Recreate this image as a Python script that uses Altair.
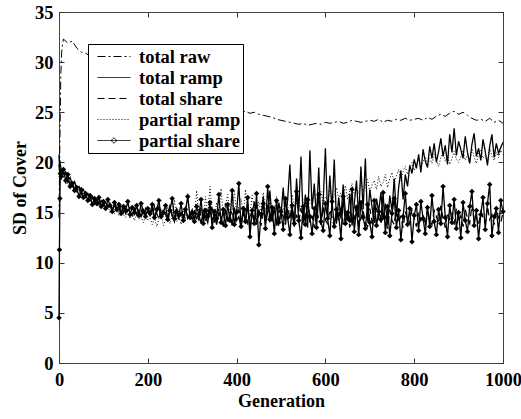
import altair as alt
import pandas as pd

series_names = ["total raw", "total ramp", "total share", "partial ramp", "partial share"]
x_ticks = [0, 200, 400, 600, 800, 1000]
y_ticks = [0, 5, 10, 15, 20, 25, 30, 35]

gens_raw = [0, 2, 4, 6, 8] + list(range(10, 1001, 10))
gens_noisy = [0, 1, 2, 3] + list(range(5, 1001, 5))

total_raw = [
    14.5, 22.0, 28.5, 31.0, 31.8,
    32.3, 31.9, 32.1, 31.4, 31.0, 30.9, 30.6, 30.3, 30.0, 29.8,
    29.5, 29.2, 29.0, 28.7, 28.5, 28.2, 28.0, 27.8, 27.6, 27.4,
    27.2, 27.0, 26.8, 26.7, 26.5, 26.3, 26.2, 26.0, 25.9, 25.8,
    25.7, 25.6, 25.5, 25.5, 25.4, 25.3, 25.3, 25.2, 25.1, 25.1,
    25.0, 25.1, 24.9, 25.0, 24.8, 24.7, 24.6, 24.5, 24.3, 24.2,
    24.1, 24.0, 23.9, 23.8, 23.9, 23.7, 23.8, 23.9, 23.8, 24.0,
    23.9, 24.0, 24.1, 23.9, 24.0, 24.2, 24.1, 24.0, 24.1, 24.2,
    24.1, 24.3, 24.0, 24.2, 24.1, 24.3, 24.2, 24.4, 24.2, 24.3,
    24.4, 24.2, 24.5, 24.3, 24.6, 24.8, 24.6, 24.9, 25.1, 24.8,
    25.0, 24.7, 24.4, 24.2, 24.3, 24.1, 24.4, 24.0, 24.2, 23.9,
]

total_ramp = [
    20.8, 19.6, 20.2, 19.8,
    19.3, 18.8, 19.0, 18.2, 18.5, 17.8, 18.1, 17.4, 17.6, 17.0, 17.3, 16.7, 16.9, 16.3, 16.6, 16.1, 16.3, 15.9, 16.2, 15.8,
    16.0, 15.6, 15.9, 15.3, 15.7, 15.2, 15.5, 15.0, 15.6, 14.9, 15.3, 15.1, 14.7, 15.4, 14.8, 15.2, 14.6, 15.3, 14.9, 15.1,
    14.7, 15.4, 14.5, 15.0, 15.6, 14.4, 15.2, 14.8, 14.3, 15.5, 14.7, 14.1, 15.3, 14.6, 15.0, 14.2, 15.4, 14.5, 14.9, 14.3,
    15.1, 14.4, 14.8, 13.9, 15.2, 14.6, 14.0, 15.4, 14.3, 14.7, 13.8, 15.0, 14.5, 13.6, 15.3, 14.1, 14.8, 13.7, 15.5, 14.2,
    14.6, 13.5, 15.2, 14.0, 15.8, 13.4, 14.9, 16.1, 13.8, 15.3, 14.4, 16.6, 13.9, 15.0, 17.2, 14.1, 15.6, 13.7, 16.0, 14.8,
    17.5, 14.2, 16.3, 19.8, 14.9, 13.6, 18.4, 15.1, 20.6, 14.0, 16.8, 13.5, 21.2, 15.4, 17.9, 14.3, 19.5, 13.8, 16.2, 21.4,
    14.6, 18.7, 15.2, 20.3, 13.9, 16.5, 14.4, 17.8, 15.0, 14.2, 16.9, 13.7, 15.8, 18.2, 14.5, 19.6, 15.3, 20.4, 14.1, 17.3,
    15.6, 14.0, 16.4, 15.1, 17.0, 14.3, 15.9, 13.8, 16.7, 15.2, 18.4, 14.6, 17.5, 19.2, 16.3, 18.8, 17.6, 19.7, 18.9, 20.3,
    19.4, 20.8, 19.0, 21.3, 20.1, 19.5, 21.6, 20.4, 21.9, 20.0, 21.1, 22.4, 20.6, 21.7, 19.8, 22.8, 21.0, 23.4, 20.7, 22.1,
    21.3, 20.4, 22.6, 21.0, 19.9, 21.8, 22.9, 20.6, 21.4, 20.2, 22.3, 21.1, 19.7, 21.6, 22.8, 20.5, 21.9, 20.9, 21.5, 22.0,
]

total_share = [
    19.8, 19.2, 18.7, 19.5,
    18.9, 18.4, 19.1, 18.0, 18.3, 17.6, 17.9, 17.1, 17.4, 16.8, 17.0, 16.5, 16.9, 16.2, 16.6, 15.9, 16.4, 15.8, 16.1, 15.7,
    16.2, 15.5, 15.9, 15.3, 16.0, 15.4, 15.1, 15.8, 15.0, 15.6, 14.9, 15.5, 15.2, 14.8, 15.7, 14.9, 15.3, 14.6, 15.4, 15.0,
    15.2, 14.7, 15.6, 14.9, 14.4, 15.5, 14.8, 15.1, 14.5, 15.8, 14.6, 14.9, 15.4, 14.3, 15.0, 14.7, 15.6, 14.4, 14.8, 15.3,
    14.5, 15.0, 14.2, 15.5, 14.7, 14.1, 15.3, 14.6, 15.7, 14.0, 14.9, 15.4, 14.3, 14.8, 15.9, 14.2, 14.6, 15.2, 13.9, 14.7,
    15.3, 14.1, 14.8, 15.6, 13.8, 14.6, 15.1, 14.0, 15.8, 14.4, 13.7, 15.2, 14.5, 16.0, 13.9, 14.7, 15.3, 14.2, 13.6, 15.0,
    14.6, 13.8, 15.5, 14.3, 15.9, 13.7, 14.8, 14.1, 15.4, 13.9, 14.5, 16.1, 14.0, 14.7, 13.5, 15.2, 14.4, 13.8, 15.6, 14.2,
    13.9, 15.3, 14.5, 13.6, 15.0, 14.2, 15.7, 13.8, 14.6, 15.1, 13.5, 14.9, 14.3, 15.8, 13.7, 14.4, 15.2, 14.0, 13.6, 15.4,
    14.1, 13.7, 15.5, 14.4, 13.9, 15.0, 14.6, 13.4, 15.3, 14.2, 13.8, 15.6, 14.0, 14.7, 13.5, 15.1, 14.3, 13.9, 15.4, 14.5,
    13.6, 15.0, 14.2, 14.8, 13.7, 15.5, 14.1, 13.8, 15.2, 14.6, 13.9, 15.7, 14.4, 13.5, 15.0, 14.3, 14.9, 13.8, 15.4, 14.1,
    14.7, 13.6, 15.3, 14.4, 13.9, 15.8, 14.2, 14.6, 13.7, 15.1, 14.5, 13.9, 15.6, 14.3, 14.8, 13.8, 15.2, 14.5, 14.0, 15.0,
]

partial_ramp = [
    18.9, 18.5, 19.3, 18.7,
    18.2, 18.7, 17.8, 18.1, 17.4, 17.7, 17.0, 17.3, 16.7, 16.9, 16.4, 16.7, 16.1, 16.4, 15.8, 16.2, 15.6, 15.9, 15.4, 15.7,
    15.3, 15.8, 15.0, 15.5, 14.9, 15.4, 14.7, 15.2, 14.8, 14.5, 15.1, 14.4, 14.9, 14.2, 14.8, 14.3, 14.6, 14.0, 14.7, 14.2,
    14.5, 13.8, 14.6, 13.6, 14.4, 14.9, 13.7, 14.3, 15.6, 13.9, 14.5, 16.3, 14.1, 14.8, 13.8, 15.4, 14.2, 16.9, 14.6, 15.0,
    14.3, 17.2, 14.8, 15.5, 14.0, 16.6, 14.7, 17.6, 15.1, 14.4, 16.0, 14.9, 17.4, 14.5, 15.8, 16.8, 14.6, 15.3, 17.1, 14.8,
    15.6, 16.4, 14.7, 17.3, 15.2, 14.9, 16.7, 15.4, 14.6, 16.1, 15.0, 17.0, 15.3, 14.8, 16.2, 15.5, 15.1, 16.6, 14.9, 15.7,
    15.2, 16.3, 15.6, 14.9, 16.8, 15.4, 15.9, 16.5, 15.1, 16.0, 16.7, 15.5, 16.2, 15.8, 16.9, 15.6, 16.4, 17.1, 15.9, 16.6,
    16.2, 17.3, 16.0, 16.8, 17.5, 16.4, 17.0, 16.6, 17.7, 16.3, 17.2, 17.9, 16.7, 17.4, 16.9, 18.1, 17.1, 17.6, 18.3, 17.0,
    17.8, 18.2, 17.3, 18.6, 17.6, 18.0, 18.8, 17.5, 18.4, 19.0, 17.9, 18.7, 19.3, 18.2, 19.1, 19.6, 18.8, 19.4, 20.0, 19.2,
    19.8, 20.3, 19.5, 20.1, 20.6, 19.7, 20.4, 19.9, 20.8, 20.2, 19.6, 20.5, 21.0, 20.1, 20.7, 19.8, 20.4, 21.1, 20.3, 20.0,
    20.6, 21.2, 20.2, 20.8, 20.0, 21.4, 20.5, 19.9, 20.9, 21.3, 20.4, 20.7, 20.1, 21.5, 20.6, 20.2, 21.0, 20.5, 21.2, 20.8,
]

partial_share = [
    4.5, 11.3, 16.4, 18.9,
    18.6, 19.3, 18.2, 18.8, 17.6, 17.9, 17.2, 17.5, 16.6, 17.3, 16.5, 16.9, 16.2, 16.7, 15.8, 16.4, 15.9, 16.5, 15.6, 16.1,
    15.4, 16.3, 15.7, 15.1, 16.0, 15.3, 15.8, 14.9, 15.6, 15.2, 16.1, 14.8, 15.5, 15.0, 15.7, 14.7, 15.9, 15.1, 14.6, 15.4,
    14.9, 15.8, 14.5, 15.3, 16.2, 14.6, 15.0, 15.7, 14.3, 15.2, 16.4, 14.4, 15.1, 14.7, 15.9, 14.2, 15.3, 16.6, 14.5, 15.0,
    14.1, 15.6, 14.8, 16.3, 13.9, 15.2, 14.6, 16.0, 13.5, 15.1, 14.4, 16.8, 14.0, 15.3, 13.7, 15.8, 14.2, 17.2, 13.8, 15.0,
    17.9, 13.6, 15.4, 14.1, 16.5, 12.6, 15.2, 13.9, 16.9, 11.8, 14.8, 15.9, 13.4, 17.6, 14.3, 15.5, 12.9, 16.2, 14.0, 15.1,
    13.3, 16.4, 14.5, 12.8, 15.7, 13.9, 17.1, 14.2, 12.5, 15.6, 13.8, 16.3, 14.6, 12.9, 15.4, 13.5, 16.8, 14.1, 13.2, 15.9,
    14.4, 12.7, 16.1, 13.6, 15.3, 14.8, 12.4, 16.6, 13.9, 15.0, 14.2, 17.3, 13.1, 15.5, 12.8, 16.0, 14.5, 13.4, 15.8, 14.0,
    12.6, 16.2, 13.7, 15.1, 14.3, 17.0, 13.0, 15.6, 12.7, 14.9, 16.4, 13.5, 15.2, 12.3, 14.6, 16.9, 13.8, 15.4, 12.1, 14.7,
    15.8, 13.2, 16.1, 14.4, 12.9, 15.5, 13.6, 16.7, 14.1, 12.8, 15.3, 13.9, 17.6, 14.5, 12.6, 15.7, 14.0, 16.3, 13.4, 15.0,
    12.5, 16.0, 14.2, 13.1, 15.6, 17.1, 13.7, 15.2, 12.4, 14.8, 16.5, 13.3, 15.9, 17.8, 12.7, 14.6, 15.4, 13.0, 16.2, 15.1,
]

dash_styles = [[8, 3, 2, 3], [1, 0], [7, 4], [1, 2], [1, 0]]
legend_paths = [
    "M-1,0L1,0",
    "M-1,0L1,0",
    "M-1,0L1,0",
    "M-1,0L1,0",
    "M-1,0L1,0M0,-0.17L0.17,0L0,0.17L-0.17,0Z",
]

W, H = 444, 351
FONT = "Liberation Serif"
TICK = "#333333"
LW = 1.3


def frame(gens, vals):
    return pd.DataFrame({"gen": gens, "value": vals})


def xenc(axis):
    return alt.X("gen:Q", scale=alt.Scale(domain=[0, 1000], nice=False, zero=False), axis=axis)


def yenc(axis):
    return alt.Y("value:Q", scale=alt.Scale(domain=[0, 35], nice=False, zero=False), axis=axis)


x_main = alt.Axis(values=x_ticks, ticks=False, domain=False, grid=False, labelPadding=7,
                  labelFlush=False, labelOverlap=False, format="d",
                  labelFont=FONT, labelFontSize=18.5, labelFontWeight="bold", labelColor="#000000",
                  title="Generation", titleFont=FONT, titleFontSize=18, titleFontWeight="bold",
                  titleColor="#000000", titlePadding=4)
y_main = alt.Axis(values=y_ticks, ticks=False, domain=False, grid=False, labelPadding=6,
                  labelFlush=False, labelOverlap=False, format="d",
                  labelFont=FONT, labelFontSize=18.5, labelFontWeight="bold", labelColor="#000000",
                  title="SD of Cover", titleFont=FONT, titleFontSize=18, titleFontWeight="bold",
                  titleColor="#000000", titlePadding=5)


def tick_axis(orient, offset, vals):
    return alt.Axis(orient=orient, offset=offset, values=vals, labels=False, ticks=True,
                    tickSize=5, tickColor=TICK, tickWidth=1, domain=False, grid=False, title=None)


raw_df = frame(gens_raw, total_raw)
ramp_df = frame(gens_noisy, total_ramp)
tshare_df = frame(gens_noisy, total_share)
pramp_df = frame(gens_noisy, partial_ramp)
pshare_df = frame(gens_noisy, partial_share)

l_raw = alt.Chart(raw_df).mark_line(color="black", strokeWidth=1, strokeDash=dash_styles[0]).encode(
    x=xenc(x_main), y=yenc(y_main))
l_ramp = alt.Chart(ramp_df).mark_line(color="black", strokeWidth=LW, strokeDash=dash_styles[1]).encode(
    x=xenc(tick_axis("top", -H, x_ticks)), y=yenc(tick_axis("right", -W, y_ticks)))
l_tshare = alt.Chart(tshare_df).mark_line(color="black", strokeWidth=LW, strokeDash=dash_styles[2]).encode(
    x=xenc(tick_axis("bottom", -H, x_ticks)), y=yenc(tick_axis("left", -W, y_ticks)))
l_pramp = alt.Chart(pramp_df).mark_line(color="black", strokeWidth=1, strokeDash=dash_styles[3]).encode(
    x=xenc(None), y=yenc(None))
l_pshare = alt.Chart(pshare_df).mark_line(color="black", strokeWidth=LW).encode(
    x=xenc(None), y=yenc(None))
p_pshare = alt.Chart(pshare_df).mark_point(shape="diamond", filled=True, size=30, color="black", opacity=1).encode(
    x=xenc(None), y=yenc(None))

legend_def = alt.Legend(title=None, orient="none", legendX=29, legendY=32, fillColor="white",
                        strokeColor="black", padding=2, labelFont=FONT, labelFontSize=18.5,
                        labelFontWeight="bold", labelColor="#000000", symbolSize=1089,
                        clipHeight=21, rowPadding=0, labelOffset=8, symbolOffset=7,
                        symbolStrokeWidth=1, symbolStrokeColor="black",
                        labelExpr="datum.label + '\u00a0\u00a0\u00a0\u00a0'")

legend_df = pd.DataFrame({"series": series_names})
legend_layer = alt.Chart(legend_df).mark_point(filled=False, clip=True, color="black", opacity=1).encode(
    x=alt.value(-300), y=alt.value(-300),
    shape=alt.Shape("series:N", scale=alt.Scale(domain=series_names, range=legend_paths), legend=legend_def),
    strokeDash=alt.StrokeDash("series:N", scale=alt.Scale(domain=series_names, range=dash_styles), legend=legend_def),
)

chart = alt.layer(l_raw, l_ramp, l_tshare, l_pramp, l_pshare, p_pshare, legend_layer).resolve_axis(
    x="independent", y="independent"
).properties(
    width=W, height=H,
    autosize=alt.AutoSizeParams(type="none"),
    padding={"left": 59, "top": 12, "right": 18, "bottom": 56},
    background="white",
).configure_view(stroke="#444444", strokeWidth=1)

chart.save("out.html", embed_options={"renderer": "svg", "actions": False})
